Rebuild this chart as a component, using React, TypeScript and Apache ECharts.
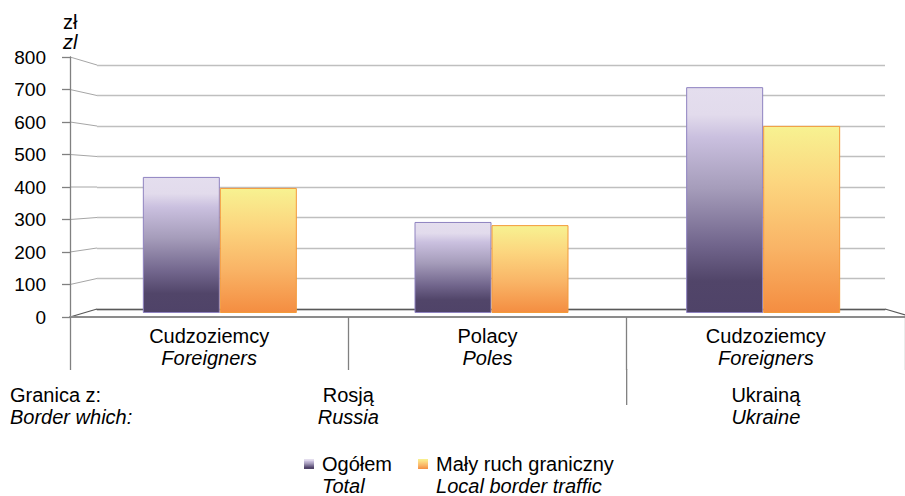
import React, { useEffect, useRef } from "react";
import * as echarts from "echarts";

const categoriesPl = ["Cudzoziemcy", "Polacy", "Cudzoziemcy"];
const categoriesEn = ["Foreigners", "Poles", "Foreigners"];
const seriesNamesPl = ["Ogółem", "Mały ruch graniczny"];
const seriesNamesEn = ["Total", "Local border traffic"];
const totalValues = [432, 289, 717];
const localValues = [397, 279, 594];
const yMin = 0;
const yMax = 800;
const yInterval = 100;
const borderGroups = [
  { pl: "Rosją", en: "Russia", from: 0, to: 1 },
  { pl: "Ukrainą", en: "Ukraine", from: 2, to: 2 },
];
const borderLabelPl = "Granica z:";
const borderLabelEn = "Border which:";
const unitPl = "zł";
const unitEn = "zl";

const FONT = "'Liberation Sans', Arial, Helvetica, sans-serif";
const FS = 20;

// geometry
const FRONT = { left: 70, top: 57, width: 842, height: 260 };
const BACK = { left: 97, top: 65, width: 788, height: 244 };
const BARS = { left: 84, top: 61, width: 815, height: 252 };

export default function App() {
  const ref = useRef<HTMLDivElement>(null);

  useEffect(() => {
    if (!ref.current) return;
    const chart = echarts.init(ref.current, null, { renderer: "svg" });

    const purple = new echarts.graphic.LinearGradient(0, 0, 0, 1, [
      { offset: 0, color: "#E4DEEE" },
      { offset: 0.12, color: "#E2DBEC" },
      { offset: 0.22, color: "#CAC0DF" },
      { offset: 0.45, color: "#A59CBA" },
      { offset: 0.7, color: "#71658C" },
      { offset: 0.86, color: "#514569" },
      { offset: 1, color: "#4F4368" },
    ]);
    const orange = new echarts.graphic.LinearGradient(0, 0, 0, 1, [
      { offset: 0, color: "#F7F291" },
      { offset: 0.3, color: "#FCD67F" },
      { offset: 0.65, color: "#F9B466" },
      { offset: 1, color: "#F48D41" },
    ]);

    const rich = {
      i: { fontStyle: "italic", fontSize: FS, lineHeight: 22, fontFamily: FONT, color: "#000" },
    };

    const option: any = {
      animation: false,
      backgroundColor: "#fff",
      textStyle: { fontFamily: FONT },
      grid: [
        { ...FRONT, containLabel: false },
        { ...BACK, containLabel: false },
        { ...BARS, containLabel: false },
      ],
      legend: {
        left: 299,
        top: 426,
        icon: "rect",
        itemWidth: 10,
        itemHeight: 10,
        itemGap: 26,
        itemStyle: { borderWidth: 0 },
        data: seriesNamesPl,
        formatter: (name: string) => {
          const i = seriesNamesPl.indexOf(name);
          return `${name}\n{i|${seriesNamesEn[i]}}`;
        },
        textStyle: {
          fontSize: FS,
          lineHeight: 22,
          color: "#000",
          fontFamily: FONT,
          padding: [22, 0, 0, 3],
          rich,
        },
      },
      xAxis: [
        {
          type: "category",
          gridIndex: 0,
          data: categoriesPl.map((_, i) => String(i)),
          boundaryGap: true,
          axisLine: { show: true, lineStyle: { color: "#8C8C8C", width: 2 } },
          axisTick: { show: true, interval: 0, length: 53, lineStyle: { color: "#808080", width: 1.3 } },
          axisLabel: {
            interval: 0,
            margin: 8,
            fontSize: FS,
            lineHeight: 22,
            color: "#000",
            fontFamily: FONT,
            formatter: (_v: string, i: number) => `${categoriesPl[i]}\n{i|${categoriesEn[i]}}`,
            rich,
          },
          splitLine: { show: false },
        },
        {
          type: "category",
          gridIndex: 1,
          data: categoriesPl.map((_, i) => String(i)),
          axisLine: { show: true, lineStyle: { color: "#595959", width: 1.3 } },
          axisTick: { show: false },
          axisLabel: { show: false },
          splitLine: { show: false },
        },
        {
          type: "category",
          gridIndex: 2,
          data: categoriesPl.map((_, i) => String(i)),
          axisLine: { show: false },
          axisTick: { show: false },
          axisLabel: { show: false },
          splitLine: { show: false },
        },
      ],
      yAxis: [
        {
          type: "value",
          gridIndex: 0,
          min: yMin,
          max: yMax,
          interval: yInterval,
          axisLine: { show: true, lineStyle: { color: "#808080", width: 1.3 } },
          axisTick: { show: true, length: 8, lineStyle: { color: "#808080", width: 1.3 } },
          axisLabel: { fontSize: 19, color: "#000", margin: 24, fontFamily: FONT },
          splitLine: { show: false },
        },
        {
          type: "value",
          gridIndex: 1,
          min: yMin,
          max: yMax,
          interval: yInterval,
          axisLine: { show: false },
          axisTick: { show: false },
          axisLabel: { show: false },
          splitLine: { show: true, lineStyle: { color: "#BFBFBF", width: 1.3 } },
        },
        {
          type: "value",
          gridIndex: 2,
          min: yMin,
          max: yMax,
          interval: yInterval,
          axisLine: { show: false },
          axisTick: { show: false },
          axisLabel: { show: false },
          splitLine: { show: false },
        },
      ],
      series: [
        {
          name: seriesNamesPl[0],
          type: "bar",
          xAxisIndex: 2,
          yAxisIndex: 2,
          data: totalValues,
          barWidth: 77,
          barGap: "0%",
          itemStyle: { color: purple, borderColor: "#8E82C0", borderWidth: 1 },
        },
        {
          name: seriesNamesPl[1],
          type: "bar",
          xAxisIndex: 2,
          yAxisIndex: 2,
          data: localValues,
          barWidth: 77,
          barGap: "0%",
          itemStyle: { color: orange, borderColor: "#F39A3B", borderWidth: 1 },
        },
      ],
    };

    chart.setOption(option);

    const graphics: any[] = [];
    const lineStyle = { stroke: "#A6A6A6", lineWidth: 1 };
    for (let v = yMin; v <= yMax; v += yInterval) {
      const f = chart.convertToPixel({ yAxisIndex: 0 }, v) as number;
      const b = chart.convertToPixel({ yAxisIndex: 1 }, v) as number;
      graphics.push({
        type: "line",
        shape: { x1: FRONT.left, y1: f, x2: BACK.left, y2: b },
        style: v === yMin ? { stroke: "#595959", lineWidth: 1.3 } : lineStyle,
        silent: true,
      });
    }
    // right floor edge
    {
      const f0 = chart.convertToPixel({ yAxisIndex: 0 }, yMin) as number;
      const b0 = chart.convertToPixel({ yAxisIndex: 1 }, yMin) as number;
      graphics.push({
        type: "line",
        shape: { x1: BACK.left + BACK.width, y1: b0, x2: FRONT.left + FRONT.width, y2: f0 },
        style: { stroke: "#595959", lineWidth: 1.3 },
        silent: true,
      });
    }
    const floorY = chart.convertToPixel({ yAxisIndex: 0 }, yMin) as number;
    const catX = (i: number) => chart.convertToPixel({ xAxisIndex: 0 }, i) as number;
    // group divider extension
    for (let g = 0; g < borderGroups.length - 1; g++) {
      const x = (catX(borderGroups[g].to) + catX(borderGroups[g + 1].from)) / 2;
      graphics.push({
        type: "line",
        shape: { x1: x, y1: floorY + 52, x2: x, y2: floorY + 88 },
        style: { stroke: "#808080", lineWidth: 1.3 },
        silent: true,
      });
    }
    const textBase = { fill: "#000", fontSize: FS, fontFamily: FONT };
    const line1Y = floorY + 78;
    const line2Y = floorY + 100;
    borderGroups.forEach((g) => {
      const x = (catX(g.from) + catX(g.to)) / 2;
      graphics.push({
        type: "text",
        x,
        y: line1Y,
        style: { ...textBase, text: g.pl, align: "center", verticalAlign: "middle" },
      });
      graphics.push({
        type: "text",
        x,
        y: line2Y,
        style: { ...textBase, text: g.en, fontStyle: "italic", align: "center", verticalAlign: "middle" },
      });
    });
    graphics.push({
      type: "text",
      x: 10,
      y: line1Y,
      style: { ...textBase, text: borderLabelPl, align: "left", verticalAlign: "middle" },
    });
    graphics.push({
      type: "text",
      x: 10,
      y: line2Y,
      style: { ...textBase, text: borderLabelEn, fontStyle: "italic", align: "left", verticalAlign: "middle" },
    });
    graphics.push({
      type: "text",
      x: 63,
      y: 22,
      style: { ...textBase, text: unitPl, align: "left", verticalAlign: "middle" },
    });
    graphics.push({
      type: "text",
      x: 63,
      y: 42,
      style: { ...textBase, text: unitEn, fontStyle: "italic", align: "left", verticalAlign: "middle" },
    });

    chart.setOption({ graphic: graphics });

    return () => chart.dispose();
  }, []);

  return (
    <div
      ref={ref}
      style={{ position: "absolute", left: 0, top: 0, width: 905, height: 496 }}
    />
  );
}
